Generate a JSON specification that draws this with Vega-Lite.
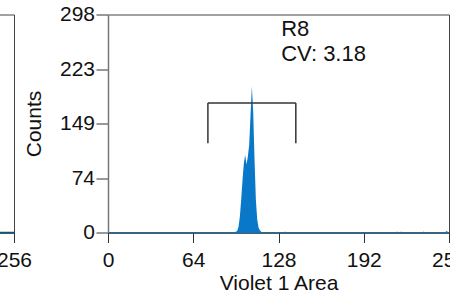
{
  "$schema": "https://vega.github.io/schema/vega-lite/v6.json",
  "autosize": {"type": "pad"},
  "padding": {"left": -90, "top": 2.5, "right": 0, "bottom": 0},
  "background": "white",
  "spacing": 94,
  "bounds": "flush",
  "config": {
    "font": "Liberation Sans",
    "view": {"stroke": "#444", "strokeWidth": 1},
    "axis": {
      "grid": false,
      "labelFont": "Liberation Sans",
      "labelFontSize": 21,
      "labelColor": "#111",
      "titleFont": "Liberation Sans",
      "titleFontSize": 21,
      "titleFontWeight": "normal",
      "titleColor": "#111",
      "tickColor": "#333",
      "tickWidth": 1,
      "domainColor": "#777",
      "domainWidth": 1.5,
      "labelFlush": false
    }
  },
  "datasets": {
    "left": [
      {"x": 181, "count": 0},
      {"x": 256, "count": 0}
    ],
    "hist": [
      {"x": 0, "count": 0},
      {"x": 88, "count": 0},
      {"x": 92, "count": 0.5},
      {"x": 94, "count": 0.5},
      {"x": 95, "count": 0.7},
      {"x": 96, "count": 1},
      {"x": 97, "count": 2},
      {"x": 98, "count": 8},
      {"x": 99, "count": 22},
      {"x": 100, "count": 45},
      {"x": 101, "count": 72},
      {"x": 102, "count": 95},
      {"x": 103, "count": 106},
      {"x": 104, "count": 93},
      {"x": 105, "count": 104},
      {"x": 106, "count": 120},
      {"x": 107, "count": 160},
      {"x": 108, "count": 200},
      {"x": 109, "count": 165},
      {"x": 110, "count": 100},
      {"x": 111, "count": 45},
      {"x": 112, "count": 18},
      {"x": 113, "count": 7},
      {"x": 114, "count": 3},
      {"x": 115, "count": 1},
      {"x": 116, "count": 0},
      {"x": 132, "count": 0},
      {"x": 133, "count": 1.5},
      {"x": 134, "count": 0},
      {"x": 216, "count": 0},
      {"x": 217, "count": 1.5},
      {"x": 218, "count": 0},
      {"x": 219, "count": 0},
      {"x": 220, "count": 1.5},
      {"x": 221, "count": 0},
      {"x": 236, "count": 0},
      {"x": 237, "count": 1.5},
      {"x": 238, "count": 0},
      {"x": 253, "count": 0},
      {"x": 254, "count": 2},
      {"x": 255, "count": 1},
      {"x": 256, "count": 0}
    ],
    "gate": [
      {"gate": "R8", "lo": 75, "hi": 141, "top": 177, "bottom": 122}
    ],
    "notes": [
      {"label": "R8", "nx": 130, "ny": 269},
      {"label": "CV: 3.18", "nx": 130, "ny": 235}
    ]
  },
  "hconcat": [
    {
      "width": 100,
      "height": 218,
      "data": {"name": "left"},
      "mark": {"type": "line", "color": "#1b4f72", "strokeWidth": 1.5},
      "encoding": {
        "x": {
          "field": "x", "type": "quantitative",
          "scale": {"domain": [181, 256], "nice": false, "zero": false},
          "axis": {"values": [256], "tickSize": 10, "labelPadding": 7, "domainColor": "#1b4f72", "domainWidth": 1.5, "title": null}
        },
        "y": {
          "field": "count", "type": "quantitative",
          "scale": {"domain": [0, 298], "nice": false},
          "axis": null
        }
      }
    },
    {
      "width": 341,
      "height": 218,
      "layer": [
        {
          "data": {"name": "hist"},
          "mark": {"type": "area", "color": "#0a78c8", "interpolate": "linear"},
          "encoding": {
            "x": {
              "field": "x", "type": "quantitative",
              "scale": {"domain": [0, 256], "nice": false, "zero": false},
              "axis": {"values": [0, 64, 128, 192, 256], "title": "Violet 1 Area", "tickSize": 10, "labelPadding": 7, "titlePadding": 2, "domainColor": "#1b4f72", "domainWidth": 1.5}
            },
            "y": {
              "field": "count", "type": "quantitative",
              "scale": {"domain": [0, 298], "nice": false},
              "axis": {"values": [0, 74, 149, 223, 298], "title": "Counts", "tickSize": 12, "labelPadding": 1.5, "titlePadding": 15}
            }
          }
        },
        {
          "data": {"name": "gate"},
          "mark": {"type": "rule", "color": "#333", "strokeWidth": 1.5},
          "encoding": {
            "x": {"field": "lo", "type": "quantitative"},
            "x2": {"field": "hi"},
            "y": {"field": "top", "type": "quantitative"}
          }
        },
        {
          "data": {"name": "gate"},
          "mark": {"type": "rule", "color": "#333", "strokeWidth": 1.5},
          "encoding": {
            "x": {"field": "lo", "type": "quantitative"},
            "y": {"field": "bottom", "type": "quantitative"},
            "y2": {"field": "top"}
          }
        },
        {
          "data": {"name": "gate"},
          "mark": {"type": "rule", "color": "#333", "strokeWidth": 1.5},
          "encoding": {
            "x": {"field": "hi", "type": "quantitative"},
            "y": {"field": "bottom", "type": "quantitative"},
            "y2": {"field": "top"}
          }
        },
        {
          "data": {"name": "notes"},
          "mark": {"type": "text", "align": "left", "baseline": "alphabetic", "fontSize": 22, "font": "Liberation Sans", "color": "#111"},
          "encoding": {
            "x": {"field": "nx", "type": "quantitative"},
            "y": {"field": "ny", "type": "quantitative"},
            "text": {"field": "label"}
          }
        }
      ]
    }
  ]
}
